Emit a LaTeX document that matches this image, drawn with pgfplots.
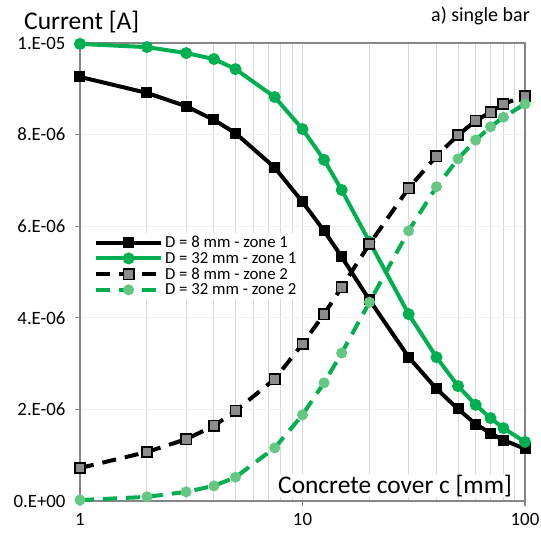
\documentclass[border=0pt]{standalone}
\usepackage{fontspec}
\setmainfont{Carlito}
\usepackage{pgfplots}
\pgfplotsset{compat=1.18}
\definecolor{zgreen}{RGB}{0,176,80}
\definecolor{ltgreen}{RGB}{100,200,130}
\definecolor{axgray}{RGB}{134,134,134}
\definecolor{gridgray}{RGB}{217,217,217}
\definecolor{hgrid}{RGB}{242,242,242}

\begin{document}
\begin{tikzpicture}
\useasboundingbox (-80pt,-38pt) rectangle (461pt,501pt);
\begin{axis}[
  width=445pt, height=458pt, scale only axis,
  xmode=log, xmin=1, xmax=100, ymin=0, ymax=1e-5,
  xtick={1,10,100}, xticklabels={1,10,100},
  ytick={0,2e-6,4e-6,6e-6,8e-6,1e-5},
  yticklabels={0.E+00,2.E-06,4.E-06,6.E-06,8.E-06,1.E-05},
  scaled y ticks=false,
  xtick pos=left, ytick pos=left,
  axis line style={axgray, line width=1.3pt},
  major tick style={axgray, line width=1.3pt},
  tick align=outside, major tick length=5pt, minor tick length=0pt,
  xmajorgrids, xminorgrids, ymajorgrids,
  x grid style={gridgray, line width=1pt},
  minor x grid style={gridgray, line width=1pt},
  y grid style={hgrid, line width=1pt},
  tick label style={font=\fontsize{18.8}{22}\selectfont},
  yticklabel style={xshift=-6pt},
  xticklabel style={yshift=-4pt},
  clip=false,
  legend style={at={(0.029,0.585)}, anchor=north west, draw=none, fill=white,
    font=\fontsize{16.8}{19}\selectfont, inner sep=1pt, row sep=-1pt},
  legend cell align=left,
  legend image code/.code={\draw[mark repeat=2,mark phase=2]
    plot coordinates {(0pt,0pt) (32.5pt,0pt) (65pt,0pt)};},
]
\addplot[black, line width=4pt, mark=square*, mark size=5pt,
  mark options={line width=1pt}] coordinates {
 (1,9.26e-6)(2,8.91e-6)(3,8.62e-6)(4,8.32e-6)(5,8.03e-6)(7.5,7.28e-6)
 (10,6.53e-6)(12.5,5.90e-6)(15,5.33e-6)(20,4.39e-6)(30,3.14e-6)(40,2.45e-6)
 (50,2.01e-6)(60,1.68e-6)(70,1.48e-6)(80,1.33e-6)(100,1.14e-6)};
\addlegendentry{D = 8 mm - zone 1}
\addplot[zgreen, line width=4pt, mark=*, mark size=5.5pt,
  mark options={line width=1pt}] coordinates {
 (1,9.98e-6)(2,9.91e-6)(3,9.78e-6)(4,9.65e-6)(5,9.43e-6)(7.5,8.82e-6)
 (10,8.12e-6)(12.5,7.45e-6)(15,6.79e-6)(20,5.66e-6)(30,4.08e-6)(40,3.14e-6)
 (50,2.51e-6)(60,2.10e-6)(70,1.81e-6)(80,1.59e-6)(100,1.29e-6)};
\addlegendentry{D = 32 mm - zone 1}
\addplot[black, line width=4pt, dash pattern=on 14pt off 9pt, mark=square*, mark size=5.2pt,
  mark options={solid, fill=black!45, draw=black, line width=1.6pt}] coordinates {
 (1,0.72e-6)(2,1.07e-6)(3,1.35e-6)(4,1.64e-6)(5,1.97e-6)(7.5,2.66e-6)
 (10,3.43e-6)(12.5,4.08e-6)(15,4.67e-6)(20,5.61e-6)(30,6.83e-6)(40,7.53e-6)
 (50,7.99e-6)(60,8.30e-6)(70,8.49e-6)(80,8.67e-6)(100,8.84e-6)};
\addlegendentry{D = 8 mm - zone 2}
\addplot[zgreen, line width=4pt, dash pattern=on 14pt off 9pt, mark=*, mark size=5pt,
  mark options={solid, fill=ltgreen, draw=ltgreen, line width=1pt}] coordinates {
 (1,0.02e-6)(2,0.09e-6)(3,0.20e-6)(4,0.33e-6)(5,0.52e-6)(7.5,1.16e-6)
 (10,1.88e-6)(12.5,2.58e-6)(15,3.23e-6)(20,4.34e-6)(30,5.90e-6)(40,6.86e-6)
 (50,7.47e-6)(60,7.88e-6)(70,8.17e-6)(80,8.38e-6)(100,8.67e-6)};
\addlegendentry{D = 32 mm - zone 2}
\end{axis}
\node[anchor=base west, font=\fontsize{25.5}{28}\selectfont, inner sep=0pt] at (-56pt,471pt) {Current [A]};
\node[anchor=base east, font=\fontsize{20}{24}\selectfont, inner sep=0pt] at (450pt,479pt) {a) single bar};
\node[anchor=base east, fill=white, font=\fontsize{25.4}{28}\selectfont, inner sep=1pt] at (433pt,8pt) {Concrete cover c [mm]};
\end{tikzpicture}
\end{document}
